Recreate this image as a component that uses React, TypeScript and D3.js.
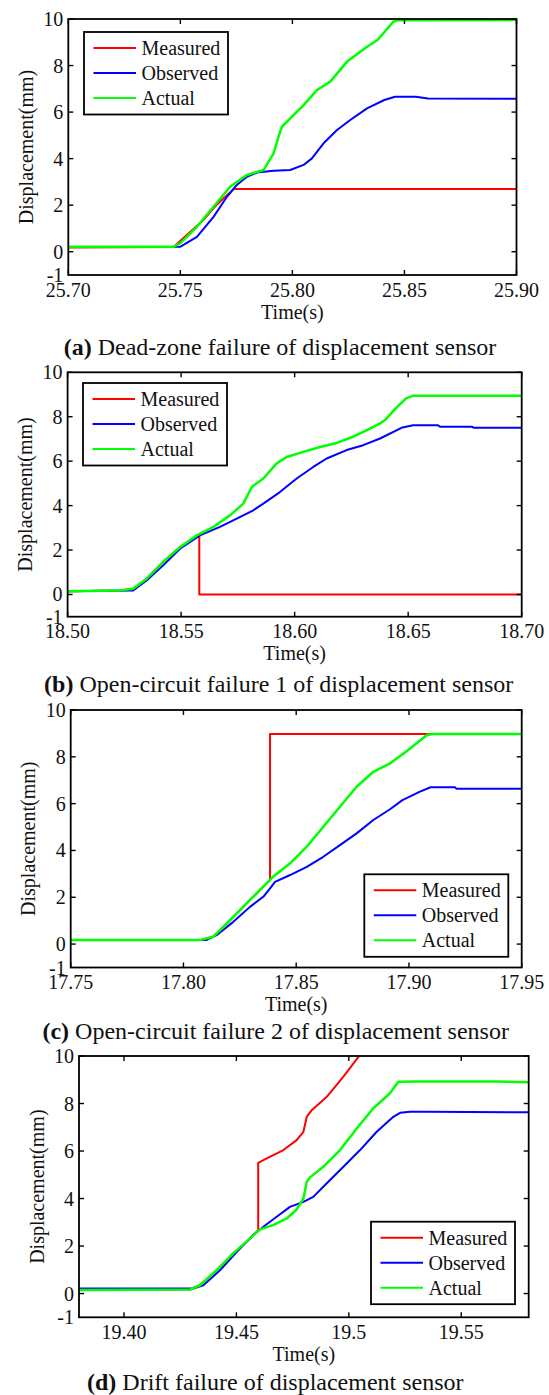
import React from "react";
import * as d3 from "d3";

const W = 549;
const H = 1395;
const FONT = "'Liberation Serif', 'Times New Roman', serif";

type Pt = [number, number];

// (a) dead-zone failure
const measuredA: Pt[] = [[25.700,0.18],[25.747,0.20],[25.7529,0.72],[25.7603,1.36],[25.7660,2.00],[25.7737,2.69],[25.900,2.69]];
const observedA: Pt[] = [[25.700,0.20],[25.7499,0.21],[25.7574,0.64],[25.7648,1.50],[25.7708,2.36],[25.7752,2.87],[25.7797,3.22],[25.7842,3.40],[25.7916,3.48],[25.7990,3.51],[25.8050,3.73],[25.8087,4.01],[25.8139,4.66],[25.8199,5.23],[25.8258,5.66],[25.8333,6.16],[25.8410,6.52],[25.8458,6.66],[25.8550,6.66],[25.8605,6.58],[25.900,6.57]];
const actualA: Pt[] = [[25.700,0.21],[25.7469,0.21],[25.7499,0.36],[25.7574,1.07],[25.7648,1.93],[25.7722,2.79],[25.7797,3.30],[25.7871,3.51],[25.7916,4.23],[25.7938,4.94],[25.7953,5.37],[25.7990,5.73],[25.8050,6.30],[25.8110,6.95],[25.8169,7.31],[25.8244,8.17],[25.8333,8.81],[25.8380,9.10],[25.8450,9.88],[25.8470,9.95],[25.900,9.96]];

// (b) open-circuit failure 1
const measuredB: Pt[] = [[18.500,0.15],[18.5231,0.18],[18.5289,0.26],[18.5348,0.71],[18.5421,1.46],[18.5495,2.13],[18.5580,2.66],[18.5580,0.00],[18.700,0.00]];
const observedB: Pt[] = [[18.500,0.15],[18.5289,0.18],[18.5348,0.63],[18.5421,1.31],[18.5495,2.06],[18.5583,2.66],[18.5671,3.04],[18.5745,3.41],[18.5818,3.79],[18.5862,4.09],[18.5935,4.61],[18.6009,5.22],[18.6082,5.74],[18.6141,6.12],[18.6229,6.50],[18.6302,6.72],[18.6376,7.02],[18.6475,7.52],[18.6522,7.62],[18.6630,7.62],[18.6640,7.55],[18.6780,7.55],[18.6790,7.50],[18.700,7.50]];
const actualB: Pt[] = [[18.500,0.15],[18.5231,0.18],[18.5289,0.26],[18.5348,0.71],[18.5421,1.46],[18.5495,2.13],[18.5569,2.66],[18.5642,3.04],[18.5715,3.56],[18.5774,4.09],[18.5811,4.84],[18.5862,5.22],[18.5921,5.90],[18.5965,6.19],[18.6038,6.42],[18.6112,6.64],[18.6185,6.82],[18.6258,7.10],[18.6332,7.47],[18.6376,7.70],[18.6398,7.85],[18.6445,8.38],[18.6491,8.83],[18.6522,8.95],[18.700,8.95]];

// (c) open-circuit failure 2
const measuredC: Pt[] = [[17.750,0.17],[17.8073,0.17],[17.8132,0.31],[17.8192,0.88],[17.8265,1.59],[17.8339,2.31],[17.8384,2.74],[17.8384,8.98],[17.950,8.98]];
const observedC: Pt[] = [[17.750,0.18],[17.8103,0.18],[17.8147,0.38],[17.8221,0.95],[17.8295,1.59],[17.8354,2.02],[17.8384,2.38],[17.8406,2.66],[17.8473,2.95],[17.8547,3.30],[17.8620,3.73],[17.8694,4.23],[17.8768,4.73],[17.8842,5.30],[17.8916,5.76],[17.8971,6.15],[17.9049,6.51],[17.9096,6.70],[17.9204,6.70],[17.9210,6.64],[17.950,6.64]];
const actualC: Pt[] = [[17.750,0.17],[17.8073,0.17],[17.8132,0.31],[17.8192,0.88],[17.8265,1.59],[17.8339,2.31],[17.8398,2.88],[17.8473,3.45],[17.8547,4.16],[17.8620,5.01],[17.8694,5.87],[17.8768,6.72],[17.8842,7.36],[17.8916,7.72],[17.8987,8.22],[17.9034,8.58],[17.9080,8.93],[17.9110,8.98],[17.950,8.98]];

// (d) drift failure
const measuredD: Pt[] = [[19.380,0.17],[19.4294,0.17],[19.4338,0.35],[19.4412,0.98],[19.4486,1.69],[19.4561,2.32],[19.4597,2.67],[19.4597,5.50],[19.4635,5.69],[19.4709,6.04],[19.4768,6.46],[19.4798,6.81],[19.4813,7.44],[19.4835,7.72],[19.4902,8.28],[19.4976,9.13],[19.5042,9.95],[19.5060,10.20]];
const observedD: Pt[] = [[19.380,0.21],[19.4308,0.21],[19.4353,0.35],[19.4427,0.98],[19.4501,1.75],[19.4575,2.46],[19.4620,2.81],[19.4679,3.23],[19.4738,3.65],[19.4798,3.86],[19.4842,4.07],[19.4902,4.64],[19.4976,5.34],[19.5050,6.04],[19.5124,6.81],[19.5198,7.44],[19.5228,7.61],[19.5272,7.65],[19.5350,7.65],[19.580,7.63]];
const actualD: Pt[] = [[19.380,0.15],[19.4294,0.17],[19.4338,0.35],[19.4412,0.98],[19.4486,1.69],[19.4561,2.32],[19.4605,2.70],[19.4664,2.88],[19.4724,3.16],[19.4768,3.54],[19.4798,4.00],[19.4813,4.70],[19.4827,4.89],[19.4887,5.34],[19.4961,6.04],[19.5035,6.95],[19.5109,7.80],[19.5183,8.43],[19.5220,8.92],[19.5300,8.93],[19.5650,8.93],[19.580,8.89]];

const seriesNames = ["Measured", "Observed", "Actual"];
const seriesColors = ["#ff0000", "#0000ff", "#00ff00"];
const seriesWidths = [2, 2, 2.5];

const yTicks = [0, 2, 4, 6, 8, 10];
const yTickLabels = ["-1", "0", "2", "4", "6", "8", "10"];
const yTickLabelValues = [-1, 0, 2, 4, 6, 8, 10];
const yDomain: [number, number] = [-1, 10];

const xTicksA = [25.70, 25.75, 25.80, 25.85, 25.90];
const xLabelsA = ["25.70", "25.75", "25.80", "25.85", "25.90"];
const xTicksB = [18.50, 18.55, 18.60, 18.65, 18.70];
const xLabelsB = ["18.50", "18.55", "18.60", "18.65", "18.70"];
const xTicksC = [17.75, 17.80, 17.85, 17.90, 17.95];
const xLabelsC = ["17.75", "17.80", "17.85", "17.90", "17.95"];
const xTicksD = [19.40, 19.45, 19.50, 19.55];
const xLabelsD = ["19.40", "19.45", "19.5", "19.55"];

const captionTags = ["(a)", "(b)", "(c)", "(d)"];
const captionTexts = [
  " Dead-zone failure of displacement sensor",
  " Open-circuit failure 1 of displacement sensor",
  " Open-circuit failure 2 of displacement sensor",
  " Drift failure of displacement sensor",
];

type Panel = {
  id: string;
  frame: { left: number; right: number; top: number; bottom: number };
  xDomain: [number, number];
  xTicks: number[];
  xLabels: string[];
  series: Pt[][];
  legend: { x: number; y: number };
  caption: { cx: number; y: number };
  tag: string;
  text: string;
};

const panels: Panel[] = [
  {
    id: "a",
    frame: { left: 68.3, right: 516.5, top: 19, bottom: 275 },
    xDomain: [25.7, 25.9],
    xTicks: xTicksA,
    xLabels: xLabelsA,
    series: [measuredA, observedA, actualA],
    legend: { x: 84, y: 32 },
    caption: { cx: 280, y: 355 },
    tag: captionTags[0],
    text: captionTexts[0],
  },
  {
    id: "b",
    frame: { left: 67.6, right: 521.7, top: 372.3, bottom: 616.7 },
    xDomain: [18.5, 18.7],
    xTicks: xTicksB,
    xLabels: xLabelsB,
    series: [measuredB, observedB, actualB],
    legend: { x: 83, y: 383 },
    caption: { cx: 278.7, y: 692 },
    tag: captionTags[1],
    text: captionTexts[1],
  },
  {
    id: "c",
    frame: { left: 70.7, right: 521.7, top: 710, bottom: 967.5 },
    xDomain: [17.75, 17.95],
    xTicks: xTicksC,
    xLabels: xLabelsC,
    series: [measuredC, observedC, actualC],
    legend: { x: 364.3, y: 874.3 },
    caption: { cx: 275.7, y: 1039 },
    tag: captionTags[2],
    text: captionTexts[2],
  },
  {
    id: "d",
    frame: { left: 79, right: 528.7, top: 1056, bottom: 1317.3 },
    xDomain: [19.38, 19.58],
    xTicks: xTicksD,
    xLabels: xLabelsD,
    series: [measuredD, observedD, actualD],
    legend: { x: 371, y: 1221.7 },
    caption: { cx: 275.3, y: 1390 },
    tag: captionTags[3],
    text: captionTexts[3],
  },
];

const TICK = 5;
const LEGEND_W = 144;
const LEGEND_H = 82.5;

function PanelChart({ p }: { p: Panel }) {
  const { left, right, top, bottom } = p.frame;
  const x = d3.scaleLinear().domain(p.xDomain).range([left, right]);
  const y = d3.scaleLinear().domain(yDomain).range([bottom, top]);
  const line = d3
    .line<Pt>()
    .x((d) => x(d[0]))
    .y((d) => y(d[1]));
  const clipId = `clip-${p.id}`;
  const midY = (top + bottom) / 2;
  const midX = (left + right) / 2;

  return (
    <g>
      <defs>
        <clipPath id={clipId}>
          <rect x={left} y={top} width={right - left} height={bottom - top} />
        </clipPath>
      </defs>

      <g clipPath={`url(#${clipId})`}>
        {p.series.map((s, i) => (
          <path
            key={i}
            d={line(s) || ""}
            fill="none"
            stroke={seriesColors[i]}
            strokeWidth={seriesWidths[i]}
            strokeLinejoin="round"
          />
        ))}
      </g>

      {/* ticks on all four sides, pointing inward */}
      {p.xTicks.map((t, i) => (
        <g key={`xt${i}`} stroke="#000" strokeWidth={1.4}>
          <line x1={x(t)} x2={x(t)} y1={bottom} y2={bottom - TICK} />
          <line x1={x(t)} x2={x(t)} y1={top} y2={top + TICK} />
        </g>
      ))}
      {yTicks.map((v, i) => (
        <g key={`yt${i}`} stroke="#000" strokeWidth={1.4}>
          <line x1={left} x2={left + TICK} y1={y(v)} y2={y(v)} />
          <line x1={right} x2={right - TICK} y1={y(v)} y2={y(v)} />
        </g>
      ))}

      <rect
        x={left}
        y={top}
        width={right - left}
        height={bottom - top}
        fill="none"
        stroke="#000"
        strokeWidth={1.8}
      />

      {/* tick labels */}
      {yTickLabelValues.map((v, i) => (
        <text
          key={`yl${i}`}
          x={left - 5}
          y={y(v) + 7}
          textAnchor="end"
          fontSize={20}
          fontFamily={FONT}
          fill="#111"
        >
          {yTickLabels[i]}
        </text>
      ))}
      {p.xTicks.map((t, i) => (
        <text
          key={`xl${i}`}
          x={x(t)}
          y={bottom + 21.5}
          textAnchor="middle"
          fontSize={20}
          fontFamily={FONT}
          fill="#111"
        >
          {p.xLabels[i]}
        </text>
      ))}

      {/* axis titles */}
      <text
        x={midX}
        y={bottom + 43.5}
        textAnchor="middle"
        fontSize={20}
        fontFamily={FONT}
        fill="#111"
      >
        Time(s)
      </text>
      <text
        transform={`translate(${left - 35.5},${midY}) rotate(-90)`}
        textAnchor="middle"
        fontSize={20}
        fontFamily={FONT}
        fill="#111"
      >
        Displacement(mm)
      </text>

      {/* legend */}
      <g>
        <rect
          x={p.legend.x}
          y={p.legend.y}
          width={LEGEND_W}
          height={LEGEND_H}
          fill="#fff"
          stroke="#000"
          strokeWidth={1.8}
        />
        {seriesNames.map((name, i) => {
          const ry = p.legend.y + 16 + i * 25;
          return (
            <g key={name}>
              <line
                x1={p.legend.x + 9.5}
                x2={p.legend.x + 52}
                y1={ry}
                y2={ry}
                stroke={seriesColors[i]}
                strokeWidth={2}
              />
              <text
                x={p.legend.x + 57.5}
                y={ry + 7}
                fontSize={20}
                fontFamily={FONT}
                fill="#111"
              >
                {name}
              </text>
            </g>
          );
        })}
      </g>

      {/* caption */}
      <text
        x={p.caption.cx}
        y={p.caption.y}
        textAnchor="middle"
        fontSize={24}
        fontFamily={FONT}
        fill="#111"
      >
        <tspan fontWeight="bold">{p.tag}</tspan>
        <tspan>{p.text}</tspan>
      </text>
    </g>
  );
}

export default function App() {
  return (
    <div style={{ position: "absolute", left: 0, top: 0, width: W, height: H }}>
      <svg width={W} height={H} viewBox={`0 0 ${W} ${H}`} style={{ display: "block", background: "#fff" }}>
        <rect x={0} y={0} width={W} height={H} fill="#fff" />
        {panels.map((p) => (
          <PanelChart key={p.id} p={p} />
        ))}
      </svg>
    </div>
  );
}
